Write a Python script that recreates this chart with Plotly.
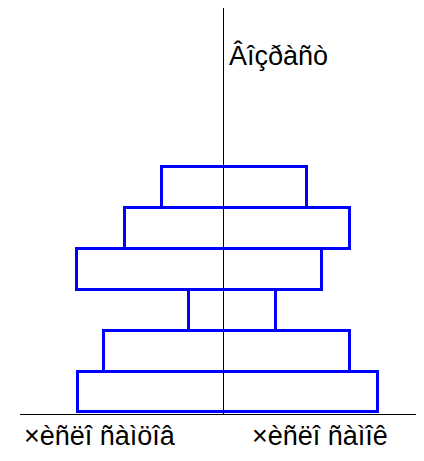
import plotly.graph_objects as go

ages = [0, 1, 2, 3, 4, 5]
males = [14.5, 11.9, 3.4, 14.6, 9.8, 6.1]
females = [15.5, 12.7, 5.3, 9.9, 12.7, 8.4]
y_title = "Âîçðàñò"
left_label = "×èñëî ñàìöîâ"
right_label = "×èñëî ñàìîê"

fig = go.Figure()
fig.add_trace(go.Bar(
    y=ages,
    x=[m + f for m, f in zip(males, females)],
    base=[-m for m in males],
    orientation="h",
    width=1,
    marker=dict(color="rgba(0,0,0,0)", line=dict(color="#0000ff", width=3)),
    hoverinfo="skip",
))

# page body has an 8px margin
W, H = 416, 453
L, R, T, B = 12, 0, 0, 47
PW, PH = W - L - R, H - T - B
PX0, PY1 = 20, 414  # plot-area left / bottom in page pixels


def px(x):
    return (x - PX0) / PW


def py(y):
    return (PY1 - y) / PH


fig.update_layout(
    width=W, height=H,
    margin=dict(l=L, r=R, t=T, b=B),
    paper_bgcolor="white", plot_bgcolor="white",
    showlegend=False,
    bargap=0,
    xaxis=dict(range=[-20.33, 20.07], showgrid=False, showticklabels=False, ticks="",
               zeroline=True, zerolinecolor="black", zerolinewidth=1,
               showline=True, linecolor="black", linewidth=1, mirror=False),
    yaxis=dict(range=[-0.54, 9.4], showgrid=False, showticklabels=False, ticks="",
               zeroline=False, showline=False),
)

font = dict(family="Liberation Sans, Arial, sans-serif", size=27, color="black")
fig.add_annotation(text=y_title, xref="paper", yref="paper", x=px(227), y=py(56),
                   xanchor="left", yanchor="middle", showarrow=False, font=font)
fig.add_annotation(text=left_label, xref="paper", yref="paper", x=px(100), y=py(436),
                   xanchor="center", yanchor="middle", showarrow=False, font=font)
fig.add_annotation(text=right_label, xref="paper", yref="paper", x=px(320), y=py(436),
                   xanchor="center", yanchor="middle", showarrow=False, font=font)

fig.write_html("out.html")
